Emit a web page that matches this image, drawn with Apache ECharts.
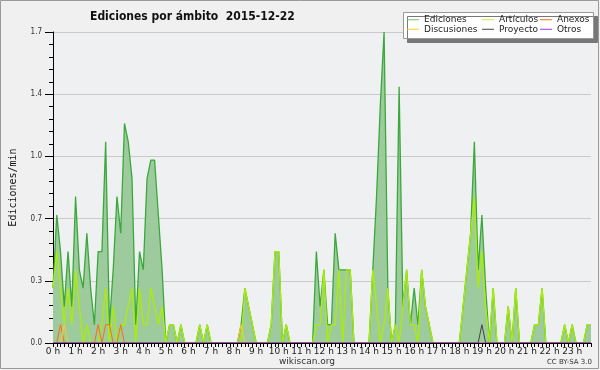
<!DOCTYPE html>
<html><head><meta charset="utf-8">
<script src="https://cdn.jsdelivr.net/npm/echarts@6/dist/echarts.min.js"></script>
<style>html,body{margin:0;padding:0;background:#f0f0f0}#c{width:600px;height:370px}</style>
</head><body><div id="c"></div>
<script>
const hourLabels = ['0 h','1 h','2 h','3 h','4 h','5 h','6 h','7 h','8 h','9 h','10 h','11 h','12 h','13 h','14 h','15 h','16 h','17 h','18 h','19 h','20 h','21 h','22 h','23 h'];
const yTickLabels = ['0.0','0.3','0.7','1.0','1.4','1.7'];
const ediciones = [
0.3,0.7,0.5,0.2,0.5,0.2,0.8,0.4,0.3,0.6,
0.3,0.1,0.5,0.5,1.1,0.1,0.4,0.8,0.6,1.2,
1.1,0.9,0.1,0.5,0.4,0.9,1.0,1.0,0.7,0.4,
0,0.1,0.1,0,0.1,0,0,0,0,0.1,
0,0.1,0,0,0,0,0,0,0,0,
0.1,0.3,0.2,0.1,0,0,0,0,0.1,0.5,
0.5,0,0.1,0,0,0,0,0,0,0,
0.5,0.2,0.4,0.1,0.1,0.6,0.4,0.4,0.4,0.4,
0,0,0,0,0,0.4,0.8,1.3,1.7,0.3,
0,0.1,1.4,0.2,0.4,0.1,0.3,0.1,0.4,0.2,
0.1,0,0,0,0,0,0,0,0,0.2,
0.4,0.6,1.1,0.4,0.7,0.3,0,0.3,0,0,
0,0.2,0,0.3,0,0,0,0,0.1,0.1,
0.3,0,0,0,0,0,0.1,0,0.1,0,
0,0,0.1,0.1];
const articulos = [
0.3,0.5,0.3,0.1,0.3,0.1,0.4,0.2,0,0.1,
0,0,0,0.1,0.3,0,0.2,0,0.1,0.1,
0.2,0.3,0,0.3,0.1,0.1,0.3,0.2,0.1,0.2,
0,0.1,0.1,0,0.1,0,0,0,0,0.1,
0,0.1,0,0,0,0,0,0,0,0,
0,0.3,0.2,0.1,0,0,0,0,0.1,0.5,
0.5,0,0.1,0,0,0,0,0,0,0,
0.1,0.1,0.4,0,0.1,0.1,0.4,0,0.4,0.4,
0,0,0,0,0,0.4,0.2,0,0.1,0.3,
0,0.1,0,0.2,0.4,0.1,0.1,0,0.4,0.2,
0.1,0,0,0,0,0,0,0,0,0.2,
0.4,0.6,0.8,0.3,0.5,0.2,0,0.3,0,0,
0,0.2,0,0.3,0,0,0,0,0.1,0.1,
0.3,0,0,0,0,0,0.1,0,0.1,0,
0,0,0.1,0.1];
const anexos = [
0,0,0.1,0,0,0,0,0,0,0,
0,0,0.1,0,0.1,0.1,0,0,0.1,0,
0,0,0,0,0,0,0,0,0,0,
0,0,0,0,0,0,0,0,0,0,
0,0,0,0,0,0,0,0,0,0,
0,0,0,0,0,0,0,0,0,0,
0,0,0,0,0,0,0,0,0,0,
0,0,0,0,0,0,0,0,0,0,
0,0,0,0,0,0,0,0,0,0,
0,0,0,0,0,0,0,0,0,0,
0,0,0,0,0,0,0,0,0,0,
0,0,0,0,0,0,0,0,0,0,
0,0,0,0,0,0,0,0,0,0,
0,0,0,0,0,0,0,0,0,0,
0,0,0,0];
const discusiones = [
0,0,0,0.1,0,0,0,0,0,0,
0,0,0,0,0,0,0,0,0,0,
0,0,0,0,0,0,0,0,0,0,
0,0,0,0,0,0,0,0,0,0,
0,0,0,0,0,0,0,0,0,0,
0.1,0,0,0,0,0,0,0,0,0,
0,0,0,0,0,0,0,0,0,0,
0,0,0,0,0,0,0,0,0,0,
0,0,0,0,0,0,0,0,0,0,
0,0,0,0,0,0,0,0,0,0,
0,0,0,0,0,0,0,0,0,0,
0,0,0,0,0,0,0,0,0,0,
0,0,0,0,0,0,0,0,0,0,
0,0,0,0,0,0,0,0,0,0,
0,0,0,0];
const proyecto = [
0,0,0,0,0,0,0,0,0,0,
0,0,0,0,0,0,0,0,0,0,
0,0,0,0,0,0,0,0,0,0,
0,0,0,0,0,0,0,0,0,0,
0,0,0,0,0,0,0,0,0,0,
0,0,0,0,0,0,0,0,0,0,
0,0,0,0,0,0,0,0,0,0,
0,0,0,0,0,0,0,0,0,0,
0,0,0,0,0,0,0,0,0,0,
0,0,0,0,0,0,0,0,0,0,
0,0,0,0,0,0,0,0,0,0,
0,0,0,0,0.1,0,0,0,0,0,
0,0,0,0,0,0,0,0,0,0,
0,0,0,0,0,0,0,0,0,0,
0,0,0,0];
const otros = new Array(144).fill(0);
const slots = [];
for (let h = 0; h < 24; h++) for (let m = 0; m < 60; m += 10) slots.push(h + ':' + (m < 10 ? '0' : '') + m);

const chart = echarts.init(document.getElementById('c'), null, {renderer: 'canvas'});
const legText = {fontSize: 9, fontFamily: 'DejaVu Sans', color: '#222', lineHeight: 9.5};
const legBase = {orient: 'vertical', top: 15, padding: 0, itemGap: 0, itemWidth: 12, itemHeight: 1, icon: 'rect', textStyle: legText, selectedMode: false, z: 20};
function line(name, data, color, width, z) {
  return {name, type: 'line', data, symbol: 'none', z, lineStyle: {color, width}, itemStyle: {color}, emphasis: {disabled: true}};
}
const ed = line('Ediciones', ediciones, '#3aa83a', 1.3, 2);
ed.areaStyle = {color: '#9ecb9e', opacity: 1};
chart.setOption({
  animation: false,
  backgroundColor: '#f0f0f0',
  title: {text: 'Ediciones por ámbito  2015-12-22', left: 85, top: 6,
    textStyle: {fontSize: 12, fontWeight: 'bold', color: '#111', fontFamily: '"DejaVu Sans Condensed", sans-serif'}},
  graphic: [
    {type: 'rect', shape: {x: 0.5, y: 0.5, width: 598, height: 368}, style: {fill: 'none', stroke: '#999', lineWidth: 1}, z: 100},
    {type: 'rect', shape: {x: 403.5, y: 12.5, width: 190, height: 26}, style: {fill: '#fff', stroke: '#999', lineWidth: 1, shadowColor: '#777', shadowOffsetX: 4, shadowOffsetY: 4, shadowBlur: 0}, z: 15},
    {type: 'text', left: 279, top: 357, style: {text: 'wikiscan.org', fontSize: 9, fontFamily: 'DejaVu Sans', fill: '#333'}},
    {type: 'text', right: 8, top: 359, style: {text: 'CC BY-SA 3.0', fontSize: 7, fontFamily: 'DejaVu Sans', fill: '#333'}}
  ],
  legend: [
    Object.assign({}, legBase, {left: 407, data: [{name: 'Ediciones', itemStyle: {color: '#6c6'}}, 'Discusiones']}),
    Object.assign({}, legBase, {left: 482, data: [{name: 'Artículos', itemStyle: {color: '#c4ee3a'}}, 'Proyecto']}),
    Object.assign({}, legBase, {left: 540, data: ['Anexos', 'Otros']})
  ],
  grid: {left: 46, right: 9, top: 32, bottom: 27, show: true, backgroundColor: '#eff0f2', borderWidth: 0},
  xAxis: {type: 'category', data: slots, boundaryGap: false, z: 5,
    axisLine: {lineStyle: {color: '#000', width: 1}},
    axisTick: {interval: 0, length: 4, lineStyle: {color: '#000'}},
    axisLabel: {interval: 5, margin: 4, fontSize: 9, color: '#222', fontFamily: 'DejaVu Sans',
      formatter: (v, i) => hourLabels[Math.round(i / 6)]},
    splitLine: {show: false}},
  yAxis: {type: 'value', min: 0, max: 1.7, interval: 0.34,
    name: 'Ediciones/min', nameLocation: 'middle', nameGap: 35, nameRotate: 90,
    nameTextStyle: {fontFamily: 'DejaVu Sans Mono', fontSize: 10, color: '#111'},
    axisLine: {show: true, lineStyle: {color: '#000'}},
    axisTick: {show: true, length: 8, lineStyle: {color: '#000'}},
    minorTick: {show: true, splitNumber: 5, length: 4, lineStyle: {color: '#000'}},
    axisLabel: {margin: 11, fontSize: 8, color: '#333', fontFamily: 'DejaVu Sans Condensed', showMinLabel: true, showMaxLabel: true,
      formatter: v => yTickLabels[Math.round(v / 0.34)]},
    splitLine: {lineStyle: {color: '#cacaca', width: 1}}},
  series: [
    ed,
    line('Artículos', articulos, '#aaee00', 1.3, 3),
    line('Anexos', anexos, '#ff6a1a', 1, 4),
    line('Discusiones', discusiones, '#ffcc22', 1, 4),
    line('Proyecto', proyecto, '#444444', 1, 4),
    line('Otros', otros, '#9933ff', 1, 4)
  ]
});
</script></body></html>
